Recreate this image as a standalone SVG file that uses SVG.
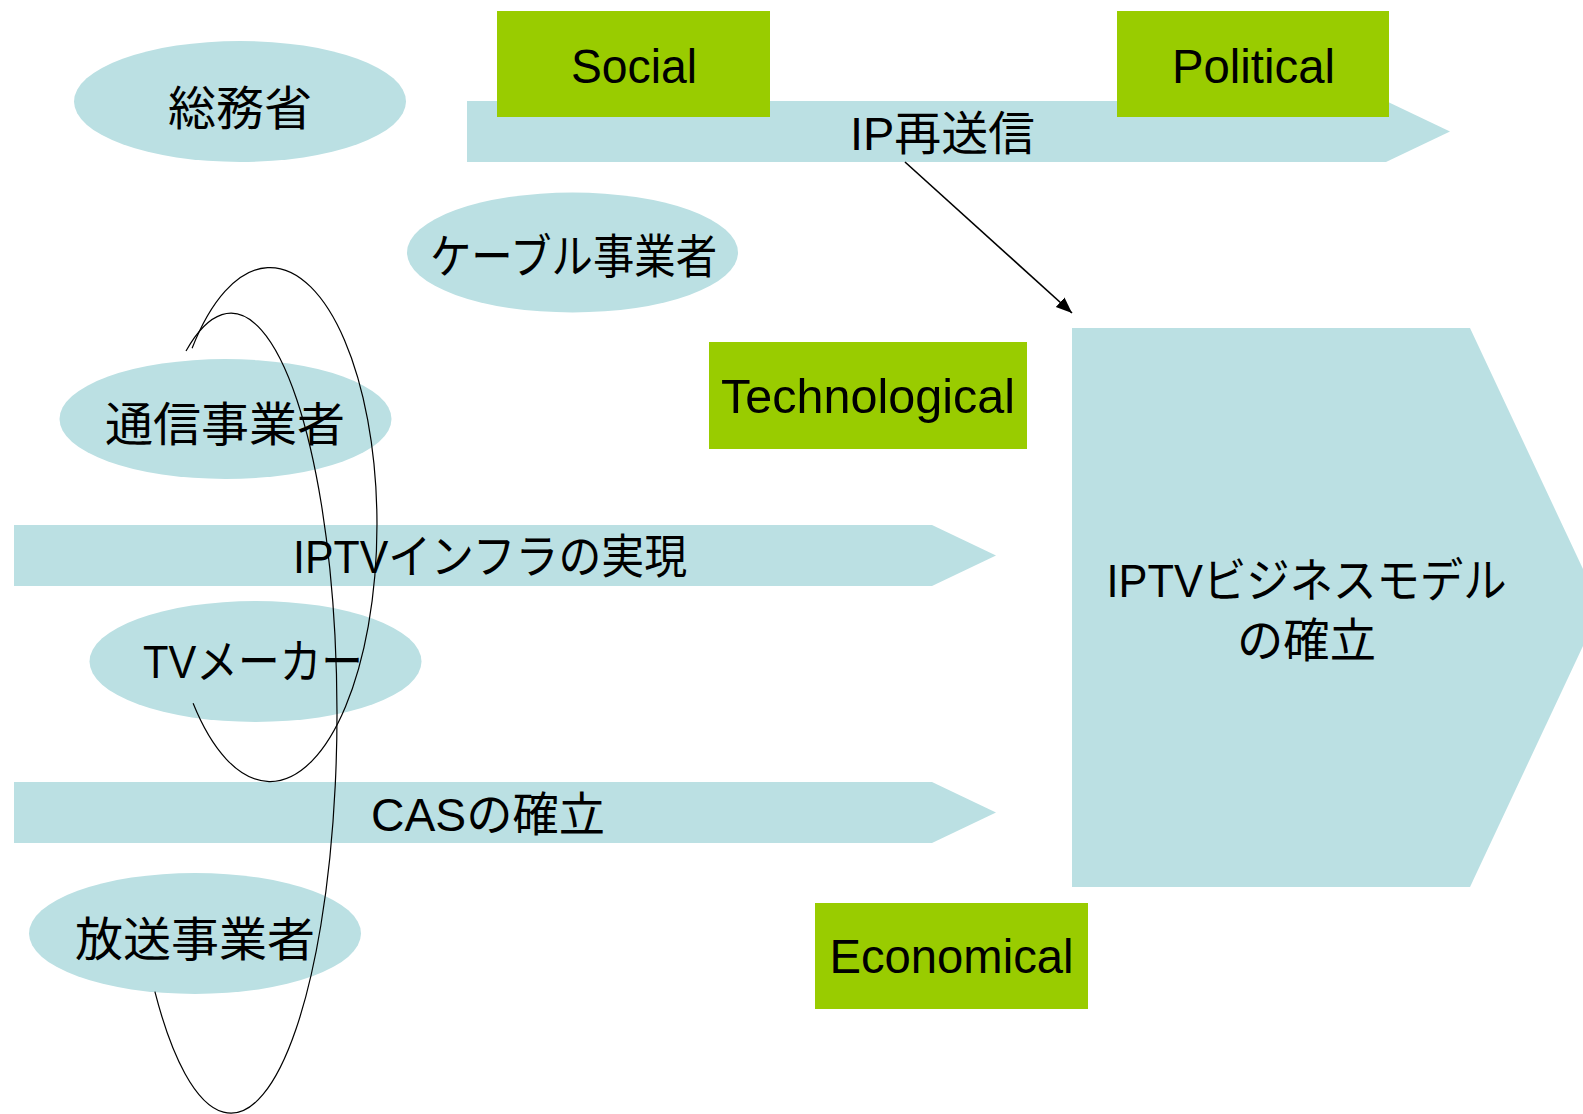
<svg xmlns="http://www.w3.org/2000/svg" width="1583" height="1114" viewBox="0 0 1583 1114">
<defs>
<style>
.shape{fill:#BBE0E3}
.pest{fill:#99CC00}
.t{font-family:"Liberation Sans","Noto Sans CJK JP",sans-serif;font-size:47px;fill:#000;text-anchor:middle}
.lt{font-family:"Liberation Sans",sans-serif;font-size:48px;fill:#000;text-anchor:middle}
.curve{fill:none;stroke:#000;stroke-width:1.2}
.conn{fill:none;stroke:#000;stroke-width:1.6}
</style>
<marker id="ah" markerUnits="userSpaceOnUse" markerWidth="17" markerHeight="14" refX="16" refY="6.5" orient="auto">
<path d="M0,0 L16,6.5 L0,13 z" fill="#000"/>
</marker>
</defs>
<rect width="1583" height="1114" fill="#fff"/>

<g id="arrow-ip">
<polygon class="shape" points="467,101 1386,101 1450,131.5 1386,162 467,162"/>
</g>
<g id="arrow-infra">
<polygon class="shape" points="14,525 932,525 996,555.5 932,586 14,586"/>
<text class="t" x="490" y="573" textLength="394" lengthAdjust="spacingAndGlyphs">IPTVインフラの実現</text>
</g>
<g id="arrow-cas">
<polygon class="shape" points="14,782 932,782 996,812.5 932,843 14,843"/>
<text class="t" x="488" y="831" textLength="234" lengthAdjust="spacingAndGlyphs">CASの確立</text>
</g>
<g id="arrow-business">
<polygon class="shape" points="1072,328 1470,328 1601,607.5 1470,887 1072,887"/>
<text class="t" x="1306.5" y="597" textLength="400" lengthAdjust="spacingAndGlyphs">IPTVビジネスモデル</text>
<text class="t" x="1306.5" y="657" textLength="139" lengthAdjust="spacingAndGlyphs">の確立</text>
</g>

<g id="social">
<rect class="pest" x="497" y="11" width="273" height="106"/>
<text class="lt" x="634" y="83" textLength="126" lengthAdjust="spacingAndGlyphs">Social</text>
</g>
<g id="political">
<rect class="pest" x="1117" y="11" width="272" height="106"/>
<text class="lt" x="1253.5" y="83" textLength="163" lengthAdjust="spacingAndGlyphs">Political</text>
</g>
<g id="ip-label">
<text class="t" x="942.5" y="150" textLength="185" lengthAdjust="spacingAndGlyphs">IP再送信</text>
</g>
<g id="technological">
<rect class="pest" x="709" y="342" width="318" height="107"/>
<text class="lt" x="868" y="413" textLength="294" lengthAdjust="spacingAndGlyphs">Technological</text>
</g>
<g id="economical">
<rect class="pest" x="815" y="903" width="273" height="106"/>
<text class="lt" x="951.5" y="973" textLength="244" lengthAdjust="spacingAndGlyphs">Economical</text>
</g>

<g id="soumusho">
<ellipse class="shape" cx="240" cy="101.5" rx="166" ry="60.5"/>
<text class="t" x="240" y="125" textLength="144" lengthAdjust="spacingAndGlyphs">総務省</text>
</g>
<g id="cable">
<ellipse class="shape" cx="572.5" cy="252.5" rx="165.5" ry="60"/>
<text class="t" x="573.5" y="273" textLength="287" lengthAdjust="spacingAndGlyphs">ケーブル事業者</text>
</g>
<g id="telecom">
<ellipse class="shape" cx="225.5" cy="419" rx="166" ry="60"/>
<text class="t" x="225" y="441" textLength="240" lengthAdjust="spacingAndGlyphs">通信事業者</text>
</g>
<g id="tvmaker">
<ellipse class="shape" cx="255.5" cy="661.5" rx="166" ry="60.5"/>
<text class="t" x="253" y="678" textLength="220" lengthAdjust="spacingAndGlyphs">TVメーカー</text>
</g>
<g id="broadcaster">
<ellipse class="shape" cx="195" cy="933.5" rx="166" ry="60.5"/>
<text class="t" x="195" y="956" textLength="240" lengthAdjust="spacingAndGlyphs">放送事業者</text>
</g>

<g id="connectors">
<line class="conn" x1="905" y1="162" x2="1072" y2="313" marker-end="url(#ah)"/>
<path class="curve" d="M192.1,348.3 A107,257 0 1 1 193.1,703.3"/>
<path class="curve" d="M186,351 A106,400 0 1 1 154.9,991.7"/>
</g>
</svg>
